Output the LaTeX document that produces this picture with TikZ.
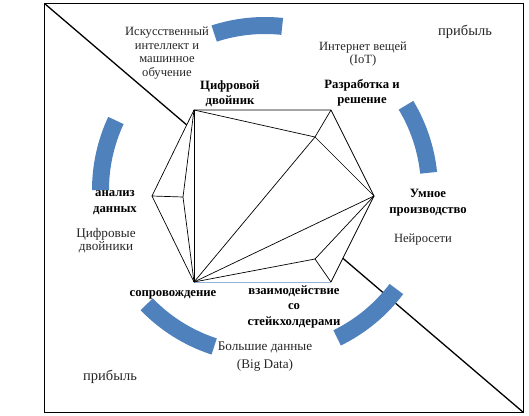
\documentclass[tikz,border=0pt]{standalone}
\usepackage{fontspec}
\setmainfont{Liberation Serif}
\usetikzlibrary{calc}
\definecolor{arcblue}{HTML}{4F81BD}
\definecolor{edgeblue}{HTML}{95B3D7}
\tikzset{
  lbl/.style={inner sep=0pt, align=center, font=\fontsize{12.6}{13.5}\selectfont, text=black!85},
  blbl/.style={inner sep=0pt, align=center, font=\fontsize{12.7}{15}\selectfont\bfseries},
  hexline/.style={line width=0.7pt, line join=round},
  band/.style={fill=arcblue},
}
\newcommand\bandseg[2]{\fill[band] ([shift={(#1:173)}]c) arc[start angle=#1,end angle=#2,radius=173] -- ([shift={(#2:156)}]c) arc[start angle=#2,end angle=#1,radius=156] -- cycle;}
\begin{document}
\begin{tikzpicture}[x=1pt,y=-1pt]
\useasboundingbox (0,0) rectangle (529,415);
\coordinate (f1) at (44.5,3.5);
\coordinate (f2) at (523.5,412.5);
\draw[line width=1.5pt] (f1) rectangle (f2);
\draw[line width=1.3pt] (f1) -- (f2);
% hexagon points
\coordinate (TL) at (194,110);
\coordinate (TR) at (331,110);
\coordinate (R) at (374,196);
\coordinate (BR) at (331,282);
\coordinate (BL) at (194,282);
\coordinate (L) at (152,196);
\coordinate (P1) at (315,137);
\coordinate (P2) at (183,197);
\coordinate (P3) at (315,259);
\fill[white] (TL) -- (TR) -- (R) -- (BR) -- (BL) -- (L) -- cycle;
\draw[hexline] (BR) -- (R) -- (TR) -- (TL) -- (L) -- (BL);
\draw[line width=1pt, edgeblue] (BL) -- (BR);
\draw[hexline] (TL) -- (BL);
\draw[hexline] (TL) -- (P1) -- (R);
\draw[hexline] (TR) -- (P1) -- (BL);
\draw[hexline] (L) -- (P2);
\draw[hexline] (TL) -- (P2) -- (BL);
\draw[hexline] (BL) -- (R);
\draw[hexline] (BL) -- (P3) -- (R);
\draw[hexline] (P3) -- (BR);
% blue bands
\coordinate (c) at (265,190);
\bandseg{-84}{-108}
\bandseg{-6}{-31}
\bandseg{64}{37}
\bandseg{136}{108}
\bandseg{-155}{-180}
% labels
\node[lbl] (ai) at (167,53) {Искусственный\\интеллект и\\машинное\\обучение};
\node[blbl] (dt) at (230,93.5) {Цифровой\\двойник};
\node[lbl] (iot) at (363,54) {Интернет вещей\\(IoT)};
\node[lbl, font=\fontsize{14.5}{16}\selectfont] (pr1) at (465,32) {прибыль};
\node[blbl] (dev) at (362,93) {Разработка и\\решение};
\node[blbl, font=\fontsize{12.7}{16.5}\selectfont\bfseries] (sm) at (428,202.5) {Умное\\производство};
\node[lbl] (nn) at (423,240) {Нейросети};
\node[blbl, font=\fontsize{12.7}{16}\selectfont\bfseries] (an) at (115,203) {анализ\\данных};
\node[lbl, font=\fontsize{13.2}{13}\selectfont] (dts) at (106,240.5) {Цифровые\\двойники};
\node[blbl] (sup) at (173,295) {сопровождение};
\node[blbl, font=\fontsize{12.7}{15.5}\selectfont\bfseries] (st) at (294,306.5) {взаимодействие\\со\\стейкхолдерами};
\node[lbl, font=\fontsize{13.2}{14}\selectfont] (bd) at (265,357) {Большие данные\\[4pt](Big Data)};
\node[lbl, font=\fontsize{14.5}{16}\selectfont] (pr2) at (110,377) {прибыль};
\end{tikzpicture}
\end{document}
